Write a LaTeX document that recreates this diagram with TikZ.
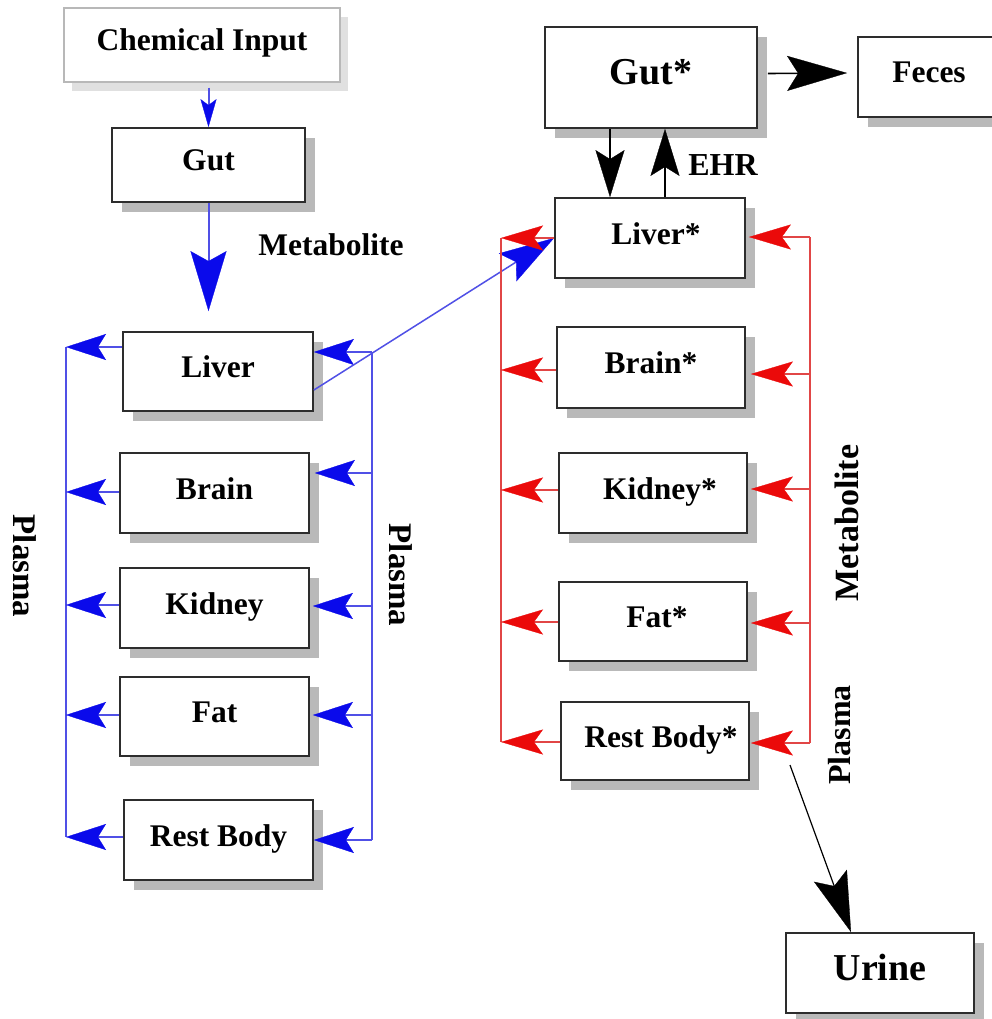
\documentclass[tikz,border=0pt]{standalone}
\usepackage{fontspec}
\setmainfont{Liberation Serif}
\usetikzlibrary{arrows.meta,shadows}
\definecolor{bl}{RGB}{10,10,235}
\definecolor{blline}{RGB}{80,80,230}
\definecolor{rd}{RGB}{235,10,10}
\definecolor{rdline}{RGB}{225,70,70}
\definecolor{shd}{RGB}{185,185,185}
\definecolor{bord}{RGB}{45,45,45}
\tikzset{
  boxbase/.style={draw=bord, line width=1.8pt, fill=white, inner sep=0pt,
    minimum width=189pt, minimum height=80pt,
    font=\fontsize{31.5}{36}\selectfont\bfseries, text height=21pt, text depth=9pt},
  box/.style={boxbase, general shadow={fill=shd, shadow xshift=10pt, shadow yshift=-10pt}},
  bigbox/.style={box, font=\fontsize{38}{42}\selectfont\bfseries, text height=25pt, text depth=11pt},
  lbl/.style={inner sep=0pt, font=\fontsize{31.5}{36}\selectfont\bfseries},
  bline/.style={draw=blline, line width=2pt},
  rline/.style={draw=rdline, line width=1.6pt},
  barrow/.style={bline, -{Stealth[length=40pt, width=26pt, inset=8pt, color=bl, line width=0.3pt]}},
  rarrow/.style={rline, -{Stealth[length=42pt, width=25pt, inset=9pt, color=rd, line width=0.3pt]}},
  sarrow/.style={bline, -{Stealth[length=28pt, width=16pt, inset=6pt, color=bl, line width=0.3pt]}},
  bigblue/.style={bline, -{Stealth[length=60pt, width=36pt, inset=10pt, color=bl, line width=0.3pt]}},
  diagblue/.style={draw=blline, line width=1.5pt, -{Stealth[length=55pt, width=33pt, inset=10pt, color=bl, line width=0.3pt]}},
  karrow/.style={draw=black, line width=1.6pt, -{Stealth[length=47pt, width=29pt, inset=9pt, color=black, line width=0.3pt]}},
  kbig/.style={draw=black, line width=1.6pt, -{Stealth[length=60pt, width=35pt, inset=11pt, color=black, line width=0.3pt]}},
}
\begin{document}
\begin{tikzpicture}[x=1pt,y=-1pt]
\useasboundingbox (0,0) rectangle (992,1019);
\fill[white] (0,0) rectangle (992,1019);
\clip (0,0) rectangle (992,1019);

% left column
\node[boxbase, draw=black!28, line width=1.4pt, minimum width=276pt, minimum height=74pt,
  general shadow={fill=black!12, shadow xshift=8pt, shadow yshift=-9pt}] (chem) at (202,45) {Chemical Input\hspace{9pt}};
\node[box, minimum width=193pt, minimum height=74pt] (gutL) at (208.5,165) {Gut};
\node[box, minimum width=190pt, minimum height=79pt] (liverL) at (218,371.5) {Liver};
\node[box] (brainL) at (214.5,493) {Brain};
\node[box] (kidneyL) at (214.5,608) {Kidney};
\node[box, minimum height=79pt] (fatL) at (214.5,716.5) {Fat};
\node[box] (restL) at (218.5,840) {Rest Body};

% right column
\node[bigbox, minimum width=212pt, minimum height=101pt] (gutS) at (651,77.5) {Gut*\hspace{16pt}};
\node[box, minimum width=142pt] (feces) at (929,77) {Feces};
\node[box, minimum width=190pt] (liverS) at (650,238) {\hspace{12pt}Liver*};
\node[box, minimum width=188pt, minimum height=81pt] (brainS) at (651,367.5) {Brain*};
\node[box, minimum width=188pt] (kidneyS) at (653,493) {\hspace{14pt}Kidney*};
\node[box, minimum width=188pt, minimum height=79pt] (fatS) at (653,621.5) {\hspace{8pt}Fat*};
\node[box, minimum width=188pt, minimum height=78pt] (restS) at (655,741) {\hspace{12pt}Rest Body*};
\node[bigbox, minimum width=188pt] (urine) at (880,973) {Urine\hspace{14pt}};

% labels
\node[lbl] (metaL) at (331,245) {Metabolite};
\node[lbl, font=\fontsize{33}{36}\selectfont\bfseries, rotate=-90] (plasmaL) at (25,566) {Plasma};
\node[lbl, font=\fontsize{33}{36}\selectfont\bfseries, rotate=-90] (plasmaR) at (401,575) {Plasma};
\node[lbl, font=\fontsize{34}{36}\selectfont\bfseries, rotate=90] (metaR) at (847,523) {Metabolite};
\node[lbl, font=\fontsize{32}{36}\selectfont\bfseries, rotate=90] (plasmaR2) at (840,735) {Plasma};
\node[lbl, font=\fontsize{32}{36}\selectfont\bfseries] (ehr) at (723,165) {EHR};

% left flows
\draw[sarrow, shorten <=5pt] (gutL.north |- chem.south) -- (gutL.north);
\draw[bigblue, shorten >=20pt] (gutL.south) -- (gutL.south |- liverL.north);

\coordinate (lb1) at (66,347);
\coordinate (lb2) at (66,492);
\coordinate (lb3) at (66,605);
\coordinate (lb4) at (66,715);
\coordinate (lb5) at (66,837);
\draw[bline] (lb1) -- (lb5);
\draw[barrow] (liverL.west |- lb1) -- (lb1);
\draw[barrow] (brainL.west |- lb2) -- (lb2);
\draw[barrow] (kidneyL.west |- lb3) -- (lb3);
\draw[barrow] (fatL.west |- lb4) -- (lb4);
\draw[barrow] (restL.west |- lb5) -- (lb5);

\coordinate (rb1) at (372,352);
\coordinate (rb2) at (372,473);
\coordinate (rb3) at (372,606);
\coordinate (rb4) at (372,715);
\coordinate (rb5) at (372,840);
\draw[bline] (rb1) -- (rb5);
\draw[barrow] (rb1) -- (liverL.east |- rb1);
\draw[barrow] (rb2) -- ([xshift=5pt]brainL.east |- rb2);
\draw[barrow] (rb3) -- ([xshift=3pt]kidneyL.east |- rb3);
\draw[barrow] (rb4) -- ([xshift=3pt]fatL.east |- rb4);
\draw[barrow] (rb5) -- (restL.east |- rb5);

\draw[diagblue] ([yshift=-18.5pt]liverL.east) -- (liverS.west);

% right flows
\coordinate (lr1) at (501,238);
\coordinate (lr2) at (501,370);
\coordinate (lr3) at (501,490);
\coordinate (lr4) at (501,622);
\coordinate (lr5) at (501,742);
\draw[rline] (lr1) -- (lr5);
\draw[rarrow] (liverS.west |- lr1) -- (lr1);
\draw[rarrow] (brainS.west |- lr2) -- (lr2);
\draw[rarrow] (kidneyS.west |- lr3) -- (lr3);
\draw[rarrow] (fatS.west |- lr4) -- (lr4);
\draw[rarrow] (restS.west |- lr5) -- (lr5);

\coordinate (rr1) at (810,237);
\coordinate (rr2) at (810,374);
\coordinate (rr3) at (810,489);
\coordinate (rr4) at (810,623);
\coordinate (rr5) at (810,743);
\draw[rline] (rr1) -- (rr5);
\draw[rarrow] (rr1) -- ([xshift=3pt]liverS.east |- rr1);
\draw[rarrow] (rr2) -- ([xshift=5pt]brainS.east |- rr2);
\draw[rarrow] (rr3) -- ([xshift=3pt]kidneyS.east |- rr3);
\draw[rarrow] (rr4) -- ([xshift=3pt]fatS.east |- rr4);
\draw[rarrow] (rr5) -- ([xshift=1pt]restS.east |- rr5);

\draw[kbig] ([xshift=10pt,yshift=4pt]gutS.east) -- ([xshift=-10pt,yshift=4pt]feces.west);
\draw[karrow] ([xshift=-41pt]gutS.south) -- ([xshift=-40pt]liverS.north);
\draw[karrow] ([xshift=15pt]liverS.north) -- ([xshift=14pt]gutS.south);

\coordinate (ustart) at (790,765);
\draw[kbig, line width=1.2pt] (ustart) -- ([xshift=-29pt]urine.north);
\end{tikzpicture}
\end{document}
